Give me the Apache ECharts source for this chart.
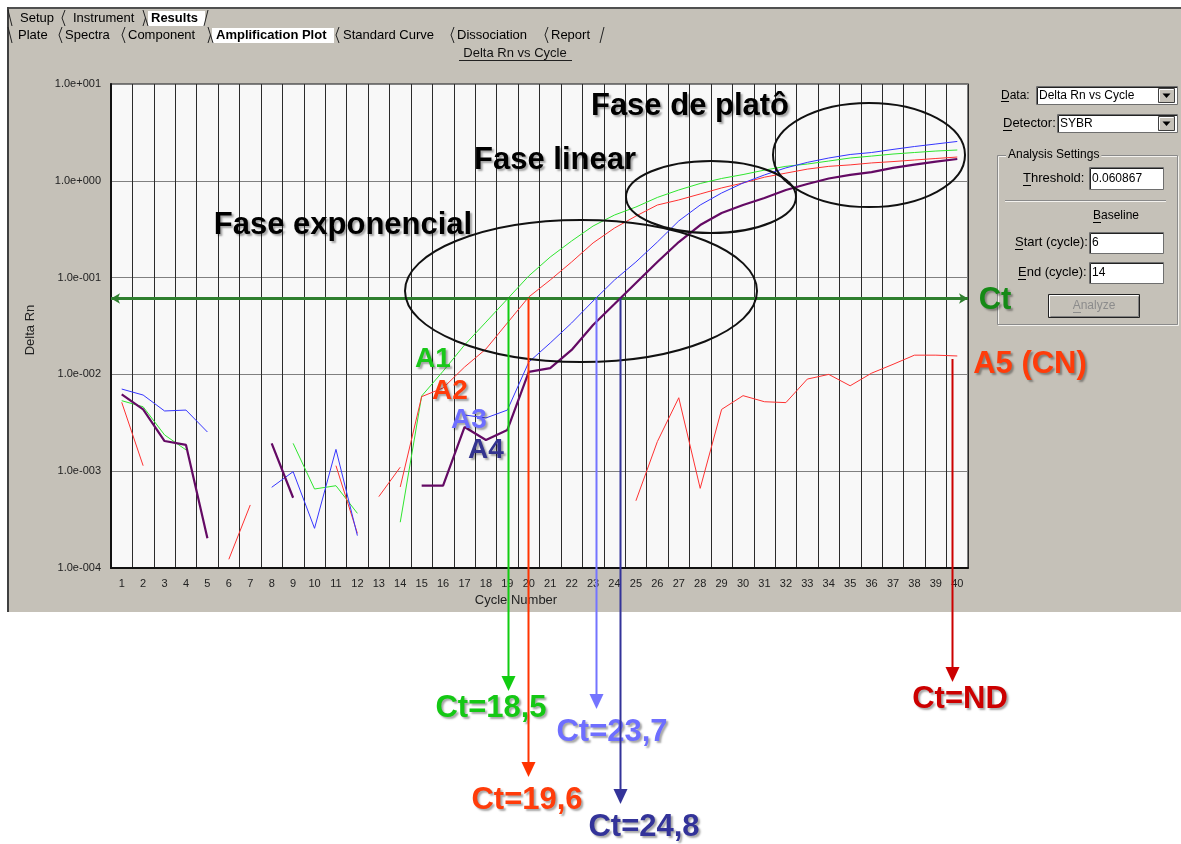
<!DOCTYPE html>
<html>
<head>
<meta charset="utf-8">
<script src="https://cdn.jsdelivr.net/npm/echarts@6/dist/echarts.min.js"></script>
<style>
  html, body { margin: 0; padding: 0; background: #ffffff; }
  #main { width: 1181px; height: 844px; }
</style>
</head>
<body>
<div id="main"></div>
<script>
// ---- Amplification plot: Delta Rn vs cycle (SYBR), wells A1–A5 ----

const cycles = ['1','2','3','4','5','6','7','8','9','10','11','12','13','14','15','16','17','18','19','20',
                '21','22','23','24','25','26','27','28','29','30','31','32','33','34','35','36','37','38','39','40'];

const yTickLabels = ['1.0e-004', '1.0e-003', '1.0e-002', '1.0e-001', '1.0e+000', '1.0e+001'];

const threshold = 0.060867;
const baselineStart = 6;
const baselineEnd = 14;

// Delta Rn per cycle (null = negative value, not drawn on the log scale)
const wellA1 = [5.35e-3, 4.63e-3, 2.37e-3, 1.66e-3, null, null, null, null, 1.94e-3, 6.55e-4,
                7.08e-4, 3.67e-4, null, 2.97e-4, 5.98e-3, 1.08e-2, 2.01e-2, 3.47e-2, 6.01e-2, 0.104,
                0.163, 0.239, 0.341, 0.443, 0.536, 0.673, 0.804, 0.938, 1.057, 1.16,
                1.29, 1.41, 1.49, 1.60, 1.72, 1.80, 1.89, 1.96, 2.03, 2.08];

const wellA2 = [5.15e-3, 1.14e-3, null, null, null, null, null, null, null, null,
                1.14e-3, 2.28e-4, null, 6.87e-4, 5.89e-3, 7.24e-3, 1.19e-2, 1.83e-2, 3.40e-2, 6.31e-2,
                9.44e-2, 0.145, 0.228, 0.325, 0.432, 0.562, 0.634, 0.731, 0.844, 0.949,
                1.09, 1.20, 1.32, 1.41, 1.46, 1.53, 1.58, 1.64, 1.70, 1.76];

const wellA3 = [7.06e-3, 6.12e-3, 4.19e-3, 4.28e-3, 2.54e-3, null, null, 6.82e-4, 9.89e-4, 2.57e-4,
                1.68e-3, 2.16e-4, null, null, null, null, 3.81e-3, 3.55e-3, 4.28e-3, 1.34e-2,
                2.11e-2, 3.40e-2, 5.73e-2, 9.44e-2, 0.145, 0.233, 0.385, 0.562, 0.748, 0.949,
                1.15, 1.36, 1.55, 1.72, 1.87, 1.96, 2.11, 2.26, 2.40, 2.55];

const wellA4 = [6.22e-3, 4.35e-3, 2.05e-3, 1.87e-3, 2.03e-4, null, null, 1.94e-3, 5.32e-4, null,
                null, null, null, null, 7.08e-4, 7.08e-4, 2.86e-3, 2.10e-3, 2.67e-3, 1.06e-2,
                1.16e-2, 1.79e-2, 3.24e-2, 5.33e-2, 8.79e-2, 0.145, 0.233, 0.349, 0.464, 0.562,
                0.664, 0.804, 0.927, 1.057, 1.15, 1.23, 1.36, 1.47, 1.58, 1.68];

// negative control
const wellA5 = [null, null, null, null, null, 1.23e-4, 4.48e-4, null, null, null,
                null, null, 5.46e-4, 1.10e-3, null, null, null, null, null, null,
                null, null, null, null, 4.95e-4, 2.02e-3, 5.74e-3, 6.65e-4, 4.35e-3, 6.03e-3,
                5.22e-3, 5.11e-3, 8.95e-3, 1.00e-2, 7.63e-3, 1.03e-2, 1.27e-2, 1.58e-2, 1.58e-2, 1.55e-2];

const wellNames = ['A1', 'A2', 'A3', 'A4', 'A5 (CN)'];
const ctTexts = ['Ct=18,5', 'Ct=19,6', 'Ct=23,7', 'Ct=24,8', 'Ct=ND'];
const phaseTexts = ['Fase exponencial', 'Fase linear', 'Fase de platô'];

// ---- styles and layout ----
const FONT = '"Liberation Sans", Arial, "DejaVu Sans", sans-serif';
const WIN_GRAY = '#C5C1B8';
const curveStyle = {
  A1: { color: '#2FE62F', width: 1 },
  A2: { color: '#FF3232', width: 1 },
  A3: { color: '#3636FF', width: 1 },
  A4: { color: '#640A64', width: 2.2 },
  A5: { color: '#FF3232', width: 1 }
};

function pairs(values) {
  return values.map((v, i) => [i + 1, v]);
}

function expLabel(v) {
  const e = Math.round(Math.log10(v));
  return yTickLabels[e + 4] || '';
}

const chart = echarts.init(document.getElementById('main'), null, { renderer: 'canvas' });

function curve(name, values, st, z) {
  return {
    type: 'line',
    name: name,
    xAxisIndex: 0,
    yAxisIndex: 0,
    data: pairs(values),
    symbol: 'none',
    showSymbol: false,
    connectNulls: false,
    silent: true,
    z: z,
    lineStyle: { color: st.color, width: st.width },
    itemStyle: { color: st.color }
  };
}

chart.setOption({
  animation: false,
  backgroundColor: WIN_GRAY,
  textStyle: { fontFamily: FONT },
  grid: {
    left: 111, top: 84, width: 857, height: 484,
    show: true, backgroundColor: '#F8F8F8', borderColor: '#555', borderWidth: 1.5,
    containLabel: false, outerBoundsMode: 'none'
  },
  xAxis: [
    { type: 'value', min: 0.5, max: 40.5, show: false, position: 'top' },
    {
      type: 'category', data: cycles, boundaryGap: true, position: 'bottom',
      axisLine: { show: true, lineStyle: { color: '#111', width: 2 } },
      axisTick: { show: false },
      axisLabel: { interval: 0, fontSize: 11, color: '#222', margin: 10, fontFamily: FONT },
      splitLine: { show: true, interval: 0, lineStyle: { color: '#2b2b2b', width: 1 } }
    }
  ],
  yAxis: {
    type: 'log', logBase: 10, min: 1e-4, max: 10,
    axisLine: { show: true, lineStyle: { color: '#111', width: 2 } },
    axisTick: { show: false },
    minorTick: { show: false },
    axisLabel: { formatter: expLabel, fontSize: 11, color: '#222', margin: 10, fontFamily: FONT },
    splitLine: { show: true, lineStyle: { color: '#808080', width: 1 } }
  },
  series: [
    curve(wellNames[4], wellA5, curveStyle.A5, 2),
    curve(wellNames[0], wellA1, curveStyle.A1, 3),
    curve(wellNames[1], wellA2, curveStyle.A2, 4),
    curve(wellNames[2], wellA3, curveStyle.A3, 5),
    curve(wellNames[3], wellA4, curveStyle.A4, 6),
    {
      type: 'line', name: 'threshold', xAxisIndex: 0, yAxisIndex: 0,
      data: [[0.5, threshold], [40.5, threshold]],
      symbol: 'none', silent: true, z: 7,
      lineStyle: { opacity: 0 },
      markLine: {
        silent: true, animation: false,
        symbol: ['arrow', 'arrow'], symbolSize: [8, 9],
        label: { show: false },
        lineStyle: { color: '#2F7F2F', width: 3, type: 'solid' },
        data: [[{ coord: [0.5, threshold] }, { coord: [40.5, threshold] }]]
      }
    }
  ]
});

// first cycle (fractional) where a curve rises through the threshold
function thresholdCrossing(values, thr) {
  for (let i = 1; i < values.length; i++) {
    const a = values[i - 1], b = values[i];
    if (a != null && b != null && a < thr && b >= thr) {
      const f = (Math.log10(thr) - Math.log10(a)) / (Math.log10(b) - Math.log10(a));
      return i + f;
    }
  }
  return null;
}

function toPx(x, y) {
  return chart.convertToPixel({ seriesIndex: 0 }, [x, y]);
}

const g = [];

// white page around the application window
g.push({ type: 'rect', shape: { x: 0, y: 612, width: 1181, height: 232 }, style: { fill: '#ffffff' }, z: 1 });
g.push({ type: 'rect', shape: { x: 0, y: 0, width: 1181, height: 7 }, style: { fill: '#ffffff' }, z: 1 });
g.push({ type: 'rect', shape: { x: 0, y: 0, width: 7, height: 612 }, style: { fill: '#ffffff' }, z: 1 });
g.push({ type: 'line', shape: { x1: 7, y1: 8, x2: 1181, y2: 8 }, style: { stroke: '#505050', lineWidth: 2 }, z: 2 });
g.push({ type: 'line', shape: { x1: 8, y1: 7, x2: 8, y2: 612 }, style: { stroke: '#404040', lineWidth: 2 }, z: 2 });

// tab strips
const tabFont = '13px ' + FONT;
const tabBold = 'bold 13px ' + FONT;
const tabRows = [
  { yT: 10, yB: 26, tabs: [['Setup', 20], ['Instrument', 73], ['Results', 151, true]],
    seps: [[10, '\\'], [63, '<'], [145, 'l'], [206, '/']], active: [148, 205] },
  { yT: 27, yB: 43, tabs: [['Plate', 18], ['Spectra', 65], ['Component', 128], ['Amplification Plot', 216, true],
    ['Standard Curve', 343], ['Dissociation', 457], ['Report', 551]],
    seps: [[10, '\\'], [60, '<'], [123, '<'], [210, 'l'], [337, '<'], [452, '<'], [546, '<'], [602, '/']], active: [212, 334] }
];
tabRows.forEach(row => {
  const yM = (row.yT + row.yB) / 2;
  g.push({ type: 'rect', shape: { x: row.active[0], y: row.yT + 1, width: row.active[1] - row.active[0], height: row.yB - row.yT - 1 },
    style: { fill: '#ffffff' }, z: 3 });
  row.tabs.forEach(t => {
    g.push({ type: 'text', x: t[1], y: yM + 0.5, z: 4,
      style: { text: t[0], font: t[2] ? tabBold : tabFont, fill: '#000', textAlign: 'left', verticalAlign: 'middle' } });
  });
  row.seps.forEach(s => {
    const x = s[0];
    let pts;
    if (s[1] === '\\') pts = [[[x - 2, row.yT], [x + 2, row.yB]]];
    else if (s[1] === '/') pts = [[[x - 2, row.yB], [x + 2, row.yT]]];
    else if (s[1] === '<') pts = [[[x + 2, row.yT], [x - 1, yM], [x + 2, row.yB]]];
    else pts = [[[x - 2, row.yT], [x + 3, row.yB]], [[x - 2, row.yB], [x + 0.5, yM]]];
    pts.forEach(p => g.push({ type: 'polyline', shape: { points: p }, style: { stroke: '#222', lineWidth: 1, fill: null }, z: 4 }));
  });
});

// plot title and axis names
g.push({ type: 'text', x: 515, y: 53, z: 4,
  style: { text: 'Delta Rn vs Cycle', font: '13px ' + FONT, fill: '#111', textAlign: 'center', verticalAlign: 'middle' } });
g.push({ type: 'line', shape: { x1: 459, y1: 60.5, x2: 572, y2: 60.5 }, style: { stroke: '#222', lineWidth: 1 }, z: 4 });
g.push({ type: 'text', x: 30, y: 330, rotation: Math.PI / 2, z: 4,
  style: { text: 'Delta Rn', font: '13px ' + FONT, fill: '#222', textAlign: 'center', verticalAlign: 'middle' } });
g.push({ type: 'text', x: 516, y: 600, z: 4,
  style: { text: 'Cycle Number', font: '13px ' + FONT, fill: '#222', textAlign: 'center', verticalAlign: 'middle' } });

// right-hand settings panel
function uiText(text, x, y, size, align, extra) {
  g.push({ type: 'text', x: x, y: y, z: 11,
    style: Object.assign({ text: text, font: size + 'px ' + FONT, fill: '#000', textAlign: align || 'left', verticalAlign: 'middle' }, extra || {}) });
}
// underline under the access-key letter of a label
function keyLine(x, w, y, color) {
  g.push({ type: 'line', shape: { x1: x, y1: y + 0.5, x2: x + w, y2: y + 0.5 }, style: { stroke: color || '#000', lineWidth: 1 }, z: 12 });
}
function field(x, y, w, h) {
  g.push({ type: 'rect', shape: { x: x + 0.5, y: y + 0.5, width: w, height: h }, style: { fill: '#ffffff', stroke: '#6e6e6e', lineWidth: 1 }, z: 10 });
  g.push({ type: 'polyline', shape: { points: [[x + 1.5, y + h], [x + 1.5, y + 1.5], [x + w, y + 1.5]] }, style: { stroke: '#222', lineWidth: 1, fill: null }, z: 10 });
}
function combo(x, y, w, text) {
  field(x, y, w, 18);
  uiText(text, x + 3, y + 9.5, 12);
  const bx = x + w - 19;
  g.push({ type: 'rect', shape: { x: bx + 0.5, y: y + 2.5, width: 16, height: 14 }, style: { fill: WIN_GRAY, stroke: '#404040', lineWidth: 1 }, z: 11 });
  g.push({ type: 'polyline', shape: { points: [[bx + 1.5, y + 15.5], [bx + 1.5, y + 3.5], [bx + 15.5, y + 3.5]] }, style: { stroke: '#fff', lineWidth: 1, fill: null }, z: 11 });
  g.push({ type: 'polygon', shape: { points: [[bx + 4.5, y + 7.5], [bx + 12.5, y + 7.5], [bx + 8.5, y + 12]] }, style: { fill: '#000' }, z: 12 });
}
uiText('Data:', 1001, 95.5, 12);
keyLine(1001, 8, 101);
combo(1036, 86, 141, 'Delta Rn vs Cycle');
uiText('Detector:', 1003, 123.5, 13);
keyLine(1003, 9, 130);
combo(1057, 114, 120, 'SYBR');

g.push({ type: 'rect', shape: { x: 997.5, y: 155.5, width: 180, height: 169 }, style: { fill: null, stroke: '#8a8a8a', lineWidth: 1 }, z: 10 });
g.push({ type: 'rect', shape: { x: 998.5, y: 156.5, width: 180, height: 169 }, style: { fill: null, stroke: '#f4f2ee', lineWidth: 1 }, z: 9 });
uiText('Analysis Settings', 1006, 155, 12, 'left', { backgroundColor: WIN_GRAY, padding: [0, 2] });

uiText('Threshold:', 1023, 178.5, 13);
keyLine(1023, 8, 185);
field(1089, 167, 74, 22);
uiText(String(threshold), 1092, 178.5, 12);
g.push({ type: 'line', shape: { x1: 1005, y1: 200.5, x2: 1166, y2: 200.5 }, style: { stroke: '#8a8a8a', lineWidth: 1 }, z: 10 });
g.push({ type: 'line', shape: { x1: 1005, y1: 201.5, x2: 1166, y2: 201.5 }, style: { stroke: '#f4f2ee', lineWidth: 1 }, z: 10 });
uiText('Baseline', 1093, 216, 12);
keyLine(1093, 8, 222);
uiText('Start (cycle):', 1015, 242.5, 13);
keyLine(1015, 8, 249);
field(1089, 232, 74, 21);
uiText(String(baselineStart), 1092, 242.5, 12);
uiText('End (cycle):', 1018, 272.5, 13);
keyLine(1018, 8, 279);
field(1089, 262, 74, 21);
uiText(String(baselineEnd), 1092, 272.5, 12);

g.push({ type: 'rect', shape: { x: 1048.5, y: 294.5, width: 91, height: 23 }, style: { fill: WIN_GRAY, stroke: '#222', lineWidth: 1 }, z: 10 });
g.push({ type: 'polyline', shape: { points: [[1049.5, 316.5], [1049.5, 295.5], [1138.5, 295.5]] }, style: { stroke: '#ffffff', lineWidth: 1, fill: null }, z: 11 });
g.push({ type: 'polyline', shape: { points: [[1050.5, 316.5], [1138.5, 316.5], [1138.5, 296.5]] }, style: { stroke: '#808080', lineWidth: 1, fill: null }, z: 11 });
uiText('Analyze', 1094, 306, 12, 'center', { fill: '#8c8c8c', textShadowColor: '#ffffff', textShadowOffsetX: 1, textShadowOffsetY: 1 });
keyLine(1073, 8, 312, '#8c8c8c');

// phase ellipses
const ellipses = [
  { cx: 581, cy: 291, rx: 176, ry: 71 },
  { cx: 711, cy: 197, rx: 85, ry: 36 },
  { cx: 869, cy: 155, rx: 96, ry: 52 }
];
ellipses.forEach(e => {
  g.push({ type: 'ellipse', shape: e, style: { fill: null, stroke: '#111', lineWidth: 2 }, z: 50, silent: true });
});

const shadow = { textShadowColor: 'rgba(0,0,0,0.35)', textShadowBlur: 2, textShadowOffsetX: 2, textShadowOffsetY: 2 };
function bigText(text, x, y, color, size) {
  g.push({ type: 'text', x: x, y: y, z: 60, silent: true,
    style: Object.assign({ text: text, font: 'bold ' + size + 'px ' + FONT, fill: color, textAlign: 'center', verticalAlign: 'middle' }, shadow) });
}

// phase captions
bigText(phaseTexts[0], 343, 225, '#000', 31);
bigText(phaseTexts[1], 555, 160, '#000', 31);
bigText(phaseTexts[2], 690, 106, '#000', 31);

// well captions
const wellLabelColors = ['#19C819', '#FF3C0A', '#6E6EFF', '#33338F', '#FF3C0A'];
bigText(wellNames[0], 433, 359, wellLabelColors[0], 28);
bigText(wellNames[1], 450, 391, wellLabelColors[1], 28);
bigText(wellNames[2], 469, 420, wellLabelColors[2], 28);
bigText(wellNames[3], 486, 450, wellLabelColors[3], 28);
bigText(wellNames[4], 1030, 364, wellLabelColors[4], 31);
bigText('Ct', 995, 300, '#168A16', 31);

// Ct arrows from the threshold crossing down to the Ct captions
const arrowColors = ['#11CC11', '#FF3300', '#7474FF', '#333399', '#CC0000'];
const ctTextColors = ['#14C814', '#FF3C0A', '#6E6EFF', '#333399', '#CC0000'];
const arrowTips = [691, 777, 709, 804, 682];
const ctTextPos = [[491, 708], [527, 800], [612, 732], [644, 827], [960, 699]];

function arrow(x, y0, tip, color) {
  g.push({ type: 'line', shape: { x1: x, y1: y0, x2: x, y2: tip - 12 }, style: { stroke: color, lineWidth: 2 }, z: 70, silent: true });
  g.push({ type: 'polygon', shape: { points: [[x - 7, tip - 15], [x + 7, tip - 15], [x, tip]] }, style: { fill: color }, z: 70, silent: true });
}

[wellA1, wellA2, wellA3, wellA4].forEach((vals, k) => {
  const c = thresholdCrossing(vals, threshold);
  if (c == null) return;
  const p = toPx(c, threshold);
  arrow(Math.round(p[0]) + 0.5, p[1], arrowTips[k], arrowColors[k]);
});
// negative control: never crosses, arrow starts from the end of its curve
const lastA5 = toPx(39.8, wellA5[39]);
arrow(Math.round(lastA5[0]) - 0.5, lastA5[1] + 3, arrowTips[4], arrowColors[4]);

ctTexts.forEach((t, k) => {
  bigText(t, ctTextPos[k][0], ctTextPos[k][1], ctTextColors[k], 31);
});

chart.setOption({ graphic: { elements: g } });
</script>
</body>
</html>
